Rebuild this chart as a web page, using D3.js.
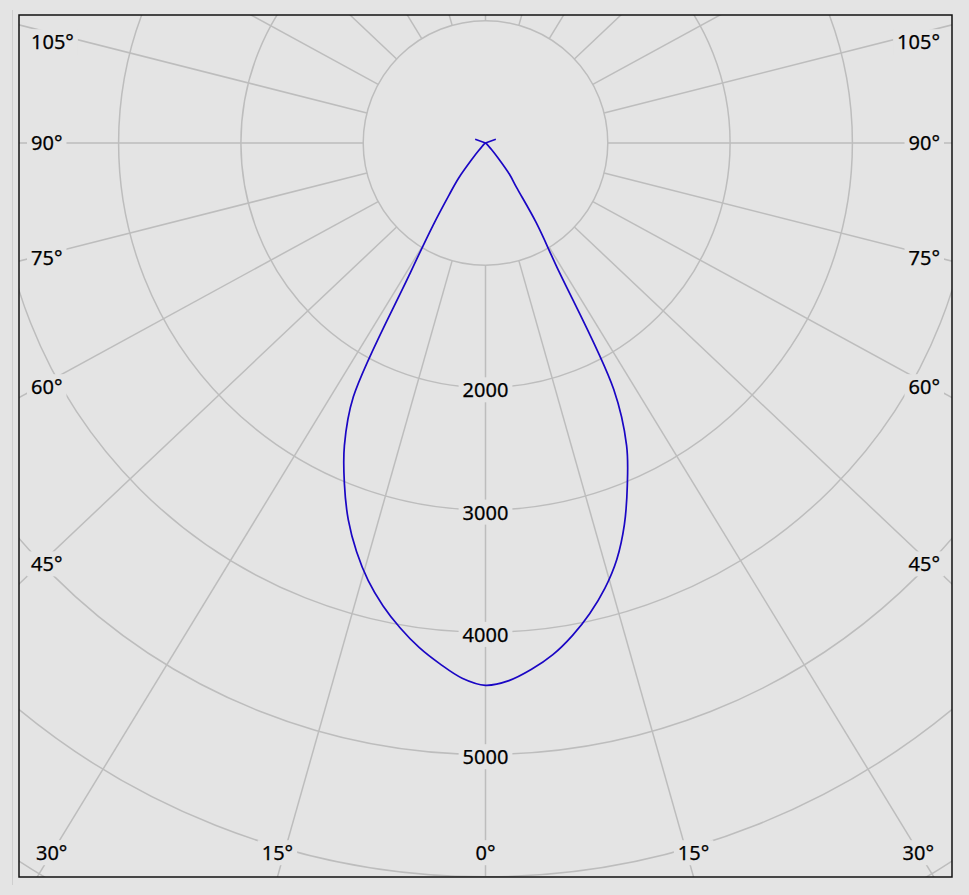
<!DOCTYPE html>
<html>
<head>
<meta charset="utf-8">
<script src="https://cdn.jsdelivr.net/npm/d3@7"></script>
<style>
  html, body { margin: 0; padding: 0; background: #e4e4e4; }
  svg { display: block; }
</style>
</head>
<body>
<script>
// ---------- data ----------
const angleTicks = [0, 15, 30, 45, 60, 75, 90, 105];
const angleTickLabels = ["0°", "15°", "30°", "45°", "60°", "75°", "90°", "105°"];
const spokeAngles = [0, 15, 30, 45, 60, 75, 90, 105, 120, 135, 150, 165, 180];
const ringValues = [1000, 2000, 3000, 4000, 5000, 6000, 7000, 8000];
const ringLabels = [2000, 3000, 4000, 5000];

const curveAngles = [0, 2.5, 5, 7.5, 10, 12.5, 15, 17.5, 20, 22.5, 25, 27.5, 30, 32.5, 35, 37.5, 40, 42.5, 45, 50, 55, 60, 70, 80, 90, 110];
const leftValues  = [4434, 4380, 4275, 4160, 4025, 3875, 3705, 3505, 3280, 3015, 2730, 2340, 1250, 800, 520, 360, 170, 80, 35, 15, 8, 5, 3, 2, 0, 90];
const rightValues = [4434, 4400, 4320, 4220, 4090, 3940, 3770, 3570, 3320, 3030, 2730, 2270, 1150, 770, 440, 320, 160, 75, 35, 15, 8, 5, 3, 2, 0, 90];

// ---------- layout ----------
const W = 969, H = 895;
const frame = { x0: 19, y0: 15, x1: 952, y1: 877 };
const cx = 485.5, cy = 143;
const spokeK = 1.058; // horizontal stretch of the spoke directions
const bg = "#e4e4e4";
const gridColor = "#bdbdbd";
const fontFamily = "'Noto Sans', 'DejaVu Sans', sans-serif";
const fontSize = 20;

const r = d3.scaleLinear().domain([0, 1000]).range([0, 122.3]);

const svg = d3.select("body").append("svg").attr("width", W).attr("height", H);
svg.append("rect").attr("width", W).attr("height", H).attr("fill", bg);

// faint outer guide line on the left
svg.append("line").attr("x1", 12.5).attr("x2", 12.5).attr("y1", 10).attr("y2", 885)
  .attr("stroke", "#cfcfcf").attr("stroke-width", 1);

svg.append("defs").append("clipPath").attr("id", "clip")
  .append("rect").attr("x", frame.x0).attr("y", frame.y0)
  .attr("width", frame.x1 - frame.x0).attr("height", frame.y1 - frame.y0);

svg.append("rect").attr("x", frame.x0).attr("y", frame.y0)
  .attr("width", frame.x1 - frame.x0).attr("height", frame.y1 - frame.y0)
  .attr("fill", bg);

const plot = svg.append("g").attr("clip-path", "url(#clip)");
const center = plot.append("g").attr("transform", `translate(${cx},${cy})`);

// rings
center.selectAll("circle.ring").data(ringValues).join("circle")
  .attr("class", "ring").attr("r", d => r(d))
  .attr("fill", "none").attr("stroke", gridColor).attr("stroke-width", 1.5);

// spoke direction (apparent) for angle theta measured from straight down
function dir(theta, side) {
  const t = theta * Math.PI / 180;
  const dx = spokeK * Math.sin(t) * side, dy = Math.cos(t);
  const n = Math.hypot(dx, dy);
  return [dx / n, dy / n];
}
const spokes = [];
spokeAngles.forEach(a => {
  [-1, 1].forEach(s => {
    if ((a === 0 || a === 180) && s === 1) return;
    spokes.push(dir(a, s));
  });
});
const r0 = r(1000), rFar = 1600;
center.selectAll("line.spoke").data(spokes).join("line")
  .attr("class", "spoke")
  .attr("x1", d => d[0] * r0).attr("y1", d => d[1] * r0)
  .attr("x2", d => d[0] * rFar).attr("y2", d => d[1] * rFar)
  .attr("stroke", gridColor).attr("stroke-width", 1.5);

// helper: text with background patch
function labelWithBg(parent, x, y, text, anchor) {
  const g = parent.append("g");
  const rect = g.append("rect").attr("fill", bg);
  const t = g.append("text").attr("x", x).attr("y", y).attr("dy", "0.36em")
    .attr("text-anchor", anchor).attr("font-family", fontFamily)
    .attr("font-size", fontSize).attr("fill", "#000")
    .attr("stroke", "#000").attr("stroke-width", 0.25).text(text);
  const b = t.node().getBBox();
  rect.attr("x", b.x - 4).attr("y", b.y + 1).attr("width", b.width + 8).attr("height", b.height - 2);
  return g;
}

// ring labels on the 0° spoke
const labelsG = svg.append("g");
ringLabels.forEach(v => {
  labelWithBg(labelsG, cx, cy + r(v) + 2.5, String(v), "middle");
});

// angle labels
const sideInset = 443.5, bottomLabelY = frame.y1 - 24;
angleTicks.forEach((a, i) => {
  [-1, 1].forEach(s => {
    if (a === 0 && s === 1) return;
    const [dx, dy] = dir(a, s);
    const tSide = Math.abs(dx) > 1e-9 ? sideInset / Math.abs(dx) : Infinity;
    const tBottom = dy > 1e-9 ? (bottomLabelY - cy) / dy : Infinity;
    const txt = angleTickLabels[i];
    if (tBottom <= tSide) {
      let x = cx + dx * (frame.y1 - cy) / dy;
      const g = labelWithBg(labelsG, x, bottomLabelY, txt, "middle");
      const b = g.select("text").node().getBBox();
      let shift = 0;
      if (b.x < frame.x0 + 17) shift = frame.x0 + 17 - b.x;
      if (b.x + b.width > frame.x1 - 18) shift = (frame.x1 - 18) - (b.x + b.width);
      if (shift) g.attr("transform", `translate(${shift},0)`);
    } else {
      let y = cy + dy * tSide + (a === 90 ? 0 : 2);
      y = Math.max(y, frame.y0 + 27);
      if (s < 0) labelWithBg(labelsG, frame.x0 + 12, y, txt, "start");
      else labelWithBg(labelsG, frame.x1 - 12, y, txt, "end");
    }
  });
});

// intensity curve: left half (C180) from the end to 0°, then right half (C0)
const leftPts = [], rightPts = [];
for (let i = curveAngles.length - 1; i >= 0; i--) {
  leftPts.push({ a: Math.PI + curveAngles[i] * Math.PI / 180, v: leftValues[i] });
}
for (let i = 0; i < curveAngles.length; i++) {
  rightPts.push({ a: Math.PI - curveAngles[i] * Math.PI / 180, v: rightValues[i] });
}
const line = d3.lineRadial().angle(d => d.a).radius(d => r(d.v))
  .curve(d3.curveCatmullRom.alpha(0.5));
const curveG = svg.append("g").attr("clip-path", "url(#clip)")
  .append("g").attr("transform", `translate(${cx},${cy})`);
// main body (0°..90° on both sides) smoothed, back-light arms straight
const nMain = curveAngles.indexOf(90);
const body = leftPts.slice(leftPts.length - 1 - nMain).concat(rightPts.slice(1, nMain + 1));
curveG.append("path").attr("d", line(body)).attr("fill", "none")
  .attr("stroke", "#1a06c4").attr("stroke-width", 1.7).attr("stroke-linejoin", "round");
const straight = d3.lineRadial().angle(d => d.a).radius(d => r(d.v));
curveG.append("path").attr("d", straight(leftPts.slice(0, leftPts.length - nMain)))
  .attr("fill", "none").attr("stroke", "#1a06c4").attr("stroke-width", 1.5);
curveG.append("path").attr("d", straight(rightPts.slice(nMain)))
  .attr("fill", "none").attr("stroke", "#1a06c4").attr("stroke-width", 1.5);

// frame
svg.append("rect").attr("x", frame.x0).attr("y", frame.y0)
  .attr("width", frame.x1 - frame.x0).attr("height", frame.y1 - frame.y0)
  .attr("fill", "none").attr("stroke", "#111").attr("stroke-width", 1.5);
</script>
</body>
</html>
